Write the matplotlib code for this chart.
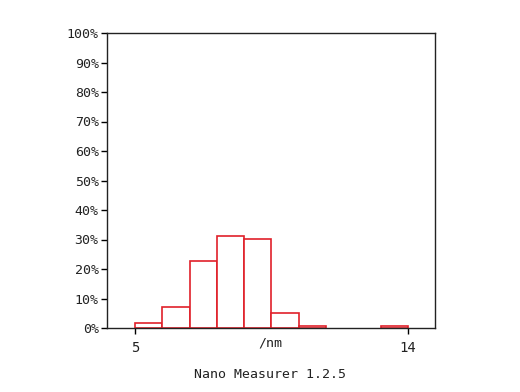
import matplotlib.pyplot as plt
import numpy as np

# bins in nm, share of particles in %
bin_edges = [5.0, 5.9, 6.8, 7.7, 8.6, 9.5, 10.4, 11.3, 12.2, 13.1, 14.0]
percent = [1.8, 7.0, 22.8, 31.3, 30.1, 5.0, 0.8, 0.0, 0.0, 0.8]
y_ticks = list(range(0, 101, 10))
x_ticks = [5, 14]

plt.rcParams['font.family'] = ['DejaVu Sans Mono']

fig = plt.figure(figsize=(5.2, 3.92), dpi=100)
ax = fig.add_axes([107 / 520, 1 - 328 / 392, 328 / 520, 295 / 392])

left = np.array(bin_edges[:-1])
width = np.diff(bin_edges)
for x0, w, h in zip(left, width, percent):
    if h > 0:
        ax.bar(x0, h, width=w, align='edge', facecolor='white',
               edgecolor='#e0202a', linewidth=1.2, zorder=1)

ax.set_xlim(4.08, 14.89)
ax.set_ylim(0, 100)
ax.set_yticks(y_ticks)
ax.set_yticklabels([f"{t}%" for t in y_ticks], fontsize=9.5, color='#222222')
ax.set_xticks(x_ticks)
ax.set_xticklabels([str(t) for t in x_ticks], fontsize=10, color='#222222')
ax.tick_params(axis='y', length=4, width=1, direction='out', pad=2)
ax.tick_params(axis='x', length=4, width=1, direction='out', pad=5)

# unit label sits on the tick label row
ax.text(9.45, -5.1, "/nm", ha='center', va='center', fontsize=9.5,
        color='#222222')
fig.text(270 / 520, 1 - 374 / 392, "Nano Measurer 1.2.5", ha='center',
         va='center', fontsize=9.5, color='#222222')

for s in ax.spines.values():
    s.set_linewidth(1)
    s.set_color('#222222')
    s.set_zorder(3)

fig.savefig('out.png', dpi=100)
